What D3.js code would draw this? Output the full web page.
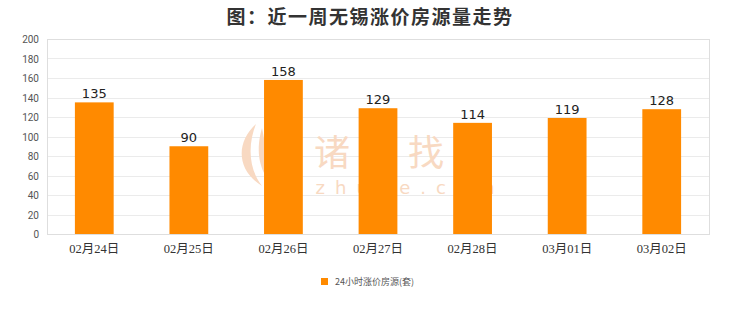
<!DOCTYPE html>
<html>
<head>
<meta charset="utf-8">
<script src="https://cdn.jsdelivr.net/npm/d3@7"></script>
<style>
  body { margin: 0; background: #fff; }
  svg { display: block; }
</style>
</head>
<body>
<svg id="chart" width="740" height="312"></svg>
<script>
const categories = ["02月24日", "02月25日", "02月26日", "02月27日", "02月28日", "03月01日", "03月02日"];
const values = [135, 90, 158, 129, 114, 119, 128];
const yTicks = [0, 20, 40, 60, 80, 100, 120, 140, 160, 180, 200];
const seriesName = "24小时涨价房源(套)";
const title = "图：近一周无锡涨价房源量走势";

const margin = { top: 39, right: 31, bottom: 78, left: 47 },
  width = 740 - margin.left - margin.right,
  height = 312 - margin.top - margin.bottom;

const svg = d3.select("#chart");
const cjk = "'Noto Sans CJK SC', 'Noto Sans', sans-serif";

svg.append("text")
  .attr("x", 370)
  .attr("y", 24)
  .attr("text-anchor", "middle")
  .attr("font-family", cjk)
  .attr("font-size", 19)
  .attr("font-weight", "bold")
  .attr("letter-spacing", 1.5)
  .attr("fill", "#333")
  .text(title);

const g = svg.append("g")
  .attr("transform", `translate(${margin.left},${margin.top})`);

const x = d3.scaleBand().domain(categories).range([0, width]).paddingInner(0.59).paddingOuter(0.295);
const y = d3.scaleLinear().domain([0, 200]).range([height, 0]);

// grid
g.selectAll(".grid")
  .data(yTicks)
  .enter()
  .append("line")
  .attr("x1", 0)
  .attr("x2", width)
  .attr("y1", (d) => Math.round(y(d)) + 0.5)
  .attr("y2", (d) => Math.round(y(d)) + 0.5)
  .attr("stroke", "#ebebeb");

g.append("rect")
  .attr("x", 0.5)
  .attr("y", 0.5)
  .attr("width", width)
  .attr("height", height)
  .attr("fill", "none")
  .attr("stroke", "#dedede");

// watermark (behind the bars)
const wmColor = "#f8d9c2";
const wm = svg.append("g");
wm.append("path")
  .attr("d", "M256,124 C236,142 236,170 262,186 C248,168 248,144 256,124 Z")
  .attr("fill", wmColor);
wm.append("path")
  .attr("d", "M262,128 C256,148 258,168 270,182 C268,164 266,148 262,128 Z")
  .attr("fill", wmColor);
wm.append("text")
  .attr("x", 408)
  .attr("y", 166)
  .attr("text-anchor", "middle")
  .attr("font-family", cjk)
  .attr("font-size", 36)
  .attr("letter-spacing", 11)
  .attr("fill", wmColor)
  .text("诸葛找房");
wm.append("text")
  .attr("x", 410)
  .attr("y", 194)
  .attr("text-anchor", "middle")
  .attr("font-family", "'DejaVu Sans', sans-serif")
  .attr("font-size", 18)
  .attr("letter-spacing", 10)
  .attr("fill", wmColor)
  .text("zhuge.com");

const gb = svg.append("g")
  .attr("transform", `translate(${margin.left},${margin.top})`);

// bars
gb.selectAll(".bar")
  .data(values)
  .enter()
  .append("rect")
  .attr("class", "bar")
  .attr("x", (d, i) => x(categories[i]))
  .attr("y", (d) => y(d))
  .attr("width", x.bandwidth())
  .attr("height", (d) => height - y(d))
  .attr("fill", "#ff8a00");

gb.selectAll(".val")
  .data(values)
  .enter()
  .append("text")
  .attr("x", (d, i) => x(categories[i]) + x.bandwidth() / 2)
  .attr("y", (d) => y(d) - 4)
  .attr("text-anchor", "middle")
  .attr("font-family", "'DejaVu Sans', sans-serif")
  .attr("font-size", 13)
  .attr("fill", "#222")
  .text((d) => d);

// y axis labels
gb.selectAll(".ytick")
  .data(yTicks)
  .enter()
  .append("text")
  .attr("x", -8)
  .attr("y", (d) => y(d) + 4)
  .attr("text-anchor", "end")
  .attr("font-family", "Roboto, 'Noto Sans', sans-serif")
  .attr("font-size", 10)
  .attr("fill", "#555")
  .text((d) => d);

// x axis labels
gb.selectAll(".xtick")
  .data(categories)
  .enter()
  .append("text")
  .attr("x", (d) => x(d) + x.bandwidth() / 2)
  .attr("y", height + 19)
  .attr("text-anchor", "middle")
  .attr("font-family", "'Liberation Serif', 'DejaVu Serif', 'Noto Sans CJK SC', serif")
  .attr("font-size", 12.5)
  .attr("fill", "#333")
  .text((d) => d);

// legend
const lg = svg.append("g").attr("transform", "translate(321,278)");
lg.append("rect")
  .attr("width", 7)
  .attr("height", 7)
  .attr("fill", "#ff8a00");
lg.append("text")
  .attr("x", 14)
  .attr("y", 7)
  .attr("font-family", cjk)
  .attr("font-size", 9)
  .attr("fill", "#555")
  .text(seriesName);
</script>
</body>
</html>
